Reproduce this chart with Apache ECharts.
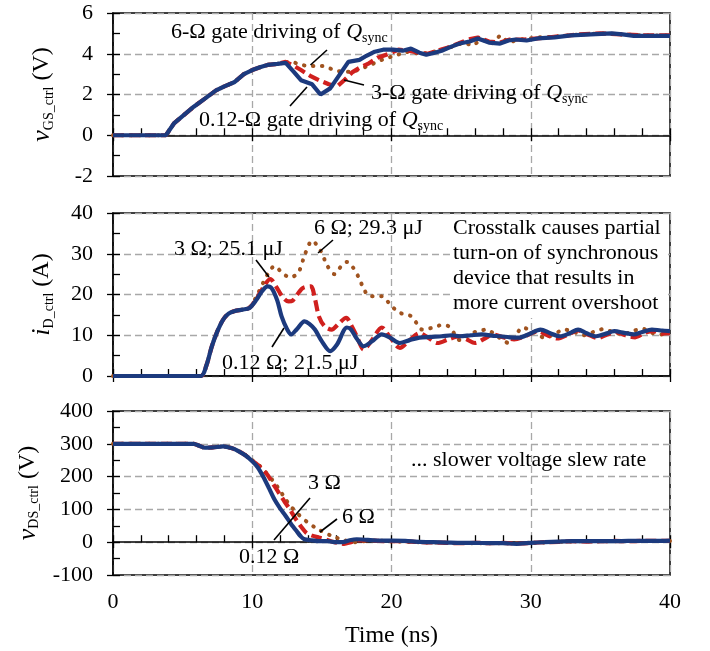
<!DOCTYPE html>
<html><head><meta charset="utf-8">
<script src="https://cdn.jsdelivr.net/npm/echarts@6/dist/echarts.min.js"></script>
<style>html,body{margin:0;padding:0;background:#fff}#c{width:710px;height:651px}</style>
</head><body><div id="c"></div>
<script>
// ---------- data (time in ns) ----------
const seriesNames = ['6 Ω', '3 Ω', '0.12 Ω'];
// Panel 1: v_GS_ctrl (V)
const vgs_6 = [[0,0],[3.8,0],[4.4,0.6],[5.1,1.0],[5.8,1.4],[6.6,1.8],[7.4,2.2],[8.0,2.4],[8.7,2.6],[9.4,3.0],[10.0,3.2],[10.6,3.35],[11.1,3.45],[11.8,3.5],[12.4,3.6],[12.9,3.6],[13.5,3.45],[14.0,3.4],[15.1,3.4],[16.1,3.15],[17.2,3.1],[18.3,3.4],[19.3,3.7],[20.4,3.95],[21.2,4.1],[22.0,4.0],[22.8,4.05],[23.6,4.2],[24.4,4.35],[25.2,4.55],[25.8,4.4],[26.5,4.7],[27.2,4.5],[27.8,4.9],[28.4,4.55],[29.2,4.7],[30.5,4.8],[32.0,4.85],[33.5,4.95],[35.0,5.0],[36.5,4.95],[38.0,4.9],[40,4.9]];
const vgs_3 = [[0,0],[3.8,0],[4.4,0.6],[5.1,1.0],[5.8,1.4],[6.6,1.8],[7.4,2.2],[8.0,2.4],[8.7,2.6],[9.4,3.0],[10.0,3.2],[10.6,3.35],[11.1,3.45],[11.8,3.5],[12.4,3.6],[13.0,3.4],[13.5,3.2],[14.2,2.9],[14.8,2.7],[15.5,2.5],[16.1,2.4],[16.6,2.7],[17.2,3.1],[17.8,3.35],[18.3,3.5],[19.0,3.8],[19.8,4.0],[20.5,4.2],[21.2,4.15],[22.0,4.05],[22.6,4.0],[23.3,4.15],[24.0,4.3],[24.8,4.5],[25.5,4.7],[26.2,4.8],[27.0,4.6],[27.8,4.55],[28.5,4.7],[29.5,4.7],[30.5,4.75],[32.0,4.85],[33.5,4.95],[35.0,5.0],[36.5,4.95],[38.0,4.9],[40,4.9]];
const vgs_012 = [[0,0],[3.8,0],[4.4,0.6],[5.1,1.0],[5.8,1.4],[6.6,1.8],[7.4,2.2],[8.0,2.4],[8.7,2.6],[9.4,3.0],[10.0,3.2],[10.6,3.35],[11.1,3.45],[11.8,3.5],[12.4,3.55],[13.0,3.1],[13.5,2.7],[14.3,2.5],[14.9,2.0],[15.6,2.3],[16.3,3.0],[16.9,3.6],[17.7,3.7],[18.2,3.9],[18.8,4.1],[19.4,4.2],[20.1,4.2],[20.8,4.15],[21.4,4.25],[22.0,4.05],[22.5,3.95],[23.1,4.05],[23.6,4.15],[24.3,4.35],[24.9,4.5],[25.6,4.6],[26.2,4.75],[27.0,4.55],[27.8,4.5],[28.4,4.65],[28.9,4.7],[29.7,4.65],[30.5,4.75],[31.7,4.8],[32.9,4.9],[34.3,4.95],[35.8,5.0],[36.6,4.95],[37.4,4.88],[38.7,4.88],[40,4.88]];
// Panel 2: i_D_ctrl (A)
const id_6 = [[0,0],[6.3,0],[6.7,2.5],[7.1,7.3],[7.5,11],[7.9,13.8],[8.3,15.3],[8.7,15.9],[9.3,16.3],[9.8,16.8],[10.3,19.5],[10.8,23.0],[11.2,25.5],[11.6,27.0],[12.1,25.5],[12.7,24.2],[13.3,25.3],[13.8,30.0],[14.3,33.2],[14.9,30.8],[15.4,27.0],[15.9,25.0],[16.4,27.0],[16.8,28.0],[17.2,26.8],[17.6,24.5],[18.0,21.5],[18.4,19.6],[19.3,19.6],[19.8,18.0],[20.4,15.9],[21.0,15.0],[21.4,14.7],[21.8,13.0],[22.2,11.4],[23.0,11.9],[23.6,12.5],[24.1,12.2],[24.6,10.0],[24.9,8.8],[25.3,9.5],[25.7,10.5],[26.3,11.0],[26.8,11.4],[27.5,10.0],[28.0,8.8],[28.4,8.1],[28.9,9.8],[29.4,11.9],[30.2,10.8],[31.0,9.4],[31.7,10.3],[32.4,11.4],[33.1,10.8],[33.8,10.0],[34.5,10.8],[35.2,11.5],[35.9,10.8],[36.6,10.2],[37.3,11.0],[38.0,11.6],[38.7,10.6],[39.4,10.2],[40,10.4]];
const id_3 = [[0,0],[6.3,0],[6.7,2.5],[7.1,7.3],[7.5,11],[7.9,13.8],[8.3,15.3],[8.7,15.9],[9.3,16.3],[9.8,16.7],[10.3,18.9],[10.8,21.8],[11.3,23.8],[11.7,22.0],[12.2,19.3],[12.6,18.3],[12.9,18.5],[13.6,21.5],[14.2,22.0],[14.5,19.0],[14.8,14.5],[15.2,12.2],[15.7,11.4],[16.2,12.8],[16.75,14.3],[17.1,12.5],[17.5,9.8],[18.0,6.5],[18.6,8.8],[19.3,11.9],[19.9,9.5],[20.6,6.9],[21.3,8.8],[22.0,10.5],[22.6,9.5],[23.3,8.1],[24.1,9.0],[24.9,9.75],[25.4,9.0],[26.0,8.1],[26.7,9.2],[27.3,10.2],[28.0,9.5],[28.8,9.0],[29.6,9.8],[30.5,11.0],[31.2,10.0],[31.9,9.2],[32.7,10.2],[33.4,11.2],[34.1,10.2],[34.8,9.3],[35.5,10.2],[36.1,10.8],[36.8,10.0],[37.5,9.5],[38.2,10.6],[38.8,11.0],[39.4,10.4],[40,10.5]];
const id_012 = [[0,0],[6.3,0],[6.7,2.5],[7.1,7.3],[7.5,11],[7.9,13.8],[8.3,15.3],[8.7,15.9],[9.3,16.3],[9.8,16.7],[10.3,18.7],[10.7,20.8],[11.1,22.0],[11.4,21.5],[11.8,18.5],[12.1,14.7],[12.5,11.5],[12.8,10.2],[13.2,11.5],[13.75,13.4],[14.1,12.8],[14.5,11.4],[15.0,8.5],[15.6,6.1],[16.1,7.8],[16.8,11.9],[17.1,11.4],[17.5,9.2],[18.0,7.3],[18.6,8.5],[19.3,10.2],[19.9,9.4],[20.6,8.1],[21.3,8.8],[22.0,9.4],[22.8,9.6],[23.6,9.75],[24.3,10.0],[24.9,9.75],[25.7,10.0],[26.5,10.2],[27.2,9.9],[27.8,9.75],[28.5,9.5],[29.1,9.4],[29.9,10.3],[30.7,11.4],[31.4,10.5],[32.1,9.75],[32.8,10.5],[33.4,11.4],[34.0,10.5],[34.7,9.75],[35.4,10.4],[36.0,11.0],[36.7,10.6],[37.4,10.2],[38.0,10.8],[38.7,11.4],[39.3,11.2],[40,11.0]];
// Panel 3: v_DS_ctrl (V)
const vds_6 = [[0,300],[5.8,300],[6.2,294],[6.6,288],[7.2,289],[7.9,292],[8.5,287],[9.0,278],[9.5,266],[10.0,250],[10.4,238],[10.8,221],[11.2,202],[11.6,181],[12.0,157],[12.4,130],[12.8,108],[13.2,90],[13.6,73],[14.0,60],[14.5,45],[15.1,31],[15.6,21],[16.1,13],[16.7,5],[17.4,0],[18.0,3],[18.8,5],[19.5,4],[20.5,2],[22,0],[24,-2],[26,-3],[28,-3],[30,-2],[32,1],[34,3],[36,3],[38,4],[40,4]];
const vds_3 = [[0,300],[5.8,300],[6.2,294],[6.6,288],[7.2,289],[7.9,292],[8.5,287],[9.0,278],[9.5,265],[10.0,248],[10.5,232],[11.1,205],[11.5,178],[11.9,151],[12.3,125],[12.7,100],[13.1,72],[13.5,48],[13.9,28],[14.3,20],[14.8,14],[15.3,8],[15.9,0],[16.6,-5],[17.1,0],[17.5,5],[18.3,6],[19.1,4],[20,3],[21,3],[22,0],[23,-1],[24,-2],[25,-3],[26,-2],[27,-3],[28,-2],[29,-4],[30,-2],[31,0],[32,1],[33,3],[34,2],[35,3],[36,4],[37,3],[38,4],[39,4],[40,4]];
const vds_012 = [[0,300],[5.8,300],[6.2,294],[6.6,288],[7.2,289],[7.9,292],[8.5,287],[9.0,278],[9.5,265],[10.0,247],[10.4,228],[10.8,199],[11.2,165],[11.6,130],[12.0,103],[12.4,80],[12.8,55],[13.2,33],[13.5,17],[13.75,9],[14.2,6],[14.8,3],[15.4,3],[16.0,0],[16.6,1],[17.0,6],[17.5,9],[18.3,7],[19.1,5],[20,5],[21,4],[22,1],[23,0],[24,-1],[25,-2],[26,-2],[27,-3],[28,-3],[29,-5],[30,-2],[31,0],[32,2],[33,3],[34,3],[35,3],[36,3],[37,4],[38,4],[39,4],[40,5]];
// axes ranges
const xRange = [0, 40, 10];
const yRanges = [[-2, 6, 2], [0, 40, 10], [-100, 400, 100]];
const yNames = ['{v|v}{s|GS_ctrl}{n| (V)}', '{v|i}{s|D_ctrl}{n| (A)}', '{v|v}{s|DS_ctrl}{n| (V)}'];
const xName = 'Time (ns)';

// ---------- chart ----------
const FONT = 'Liberation Serif';
const COLORS = {b: '#1C3A7E', r: '#D0201E', o: '#A0531F'};
const grids = [
  {left: 113, top: 13, width: 557, height: 163},
  {left: 113, top: 213, width: 557, height: 163},
  {left: 113, top: 411, width: 557, height: 164}
].map(g => Object.assign(g, {show: true, borderColor: '#000', borderWidth: 1.5, backgroundColor: 'transparent'}));

const splitStyle = {type: [7, 4], color: '#A8A8A8', width: 1.3};
const xAxes = [], yAxes = [];
for (let i = 0; i < 3; i++) {
  xAxes.push({
    gridIndex: i, type: 'value', min: xRange[0], max: xRange[1], interval: xRange[2], position: 'bottom',
    axisLine: {lineStyle: {color: '#000', width: 1.5}},
    axisTick: {inside: true, length: 7, lineStyle: {color: '#000', width: 1.3}},
    minorTick: {show: true, splitNumber: 5, length: 7, lineStyle: {color: '#000', width: 1.3}},
    axisLabel: {show: i === 2, fontFamily: FONT, fontSize: 22, color: '#000', margin: 16},
    splitLine: {show: true, lineStyle: splitStyle},
    name: i === 2 ? xName : '', nameLocation: 'middle', nameGap: 49,
    nameTextStyle: {fontFamily: FONT, fontSize: 24, color: '#000'}
  });
  const yr = yRanges[i];
  yAxes.push({
    gridIndex: i, type: 'value', min: yr[0], max: yr[1], interval: yr[2], position: 'left',
    axisLine: {show: true, lineStyle: {color: '#000', width: 1.5}},
    axisTick: {show: true, inside: true, length: 7, lineStyle: {color: '#000', width: 1.3}},
    minorTick: {show: true, splitNumber: 2, length: 7, lineStyle: {color: '#000', width: 1.3}},
    axisLabel: {fontFamily: FONT, fontSize: 22, color: '#000', margin: 20},
    splitLine: {show: true, lineStyle: splitStyle},
    name: yNames[i], nameLocation: 'middle', nameRotate: 90, nameGap: 57,
    nameTextStyle: {
      fontFamily: FONT, color: '#000',
      rich: {
        v: {fontFamily: FONT, fontSize: 26, fontStyle: 'italic', lineHeight: 28, color: '#000'},
        s: {fontFamily: FONT, fontSize: 14, lineHeight: 14, verticalAlign: 'bottom', color: '#000'},
        n: {fontFamily: FONT, fontSize: 24, lineHeight: 28, color: '#000'}
      }
    }
  });
}
// overlay axes: outward major ticks (crossing ticks)
for (let i = 0; i < 3; i++) {
  xAxes.push({gridIndex: i, type: 'value', min: xRange[0], max: xRange[1], interval: xRange[2], position: 'bottom',
    axisLine: {show: false}, axisTick: {show: true, inside: false, length: 6, lineStyle: {color: '#000', width: 1.3}},
    axisLabel: {show: false}, splitLine: {show: false}});
  const yr = yRanges[i];
  yAxes.push({gridIndex: i, type: 'value', min: yr[0], max: yr[1], interval: yr[2], position: 'left',
    axisLine: {show: false}, axisTick: {show: true, inside: false, length: 6, lineStyle: {color: '#000', width: 1.3}},
    axisLabel: {show: false}, splitLine: {show: false}});
}

function mk(name, data, gi, kind, smooth) {
  const ls = kind === 'b' ? {color: COLORS.b, width: 4.2, type: 'solid'}
           : kind === 'r' ? {color: COLORS.r, width: 4.2, type: [11, 5]}
           : {color: COLORS.o, width: 4, type: [0.5, 8.5], cap: 'round'};
  return {type: 'line', name, data, xAxisIndex: gi, yAxisIndex: gi, symbol: 'none', smooth: smooth,
    lineStyle: ls, itemStyle: {color: ls.color}, z: kind === 'b' ? 5 : kind === 'r' ? 4 : 3, animation: false};
}
const series = [
  mk(seriesNames[0], vgs_6, 0, 'o', 0), mk(seriesNames[1], vgs_3, 0, 'r', 0), mk(seriesNames[2], vgs_012, 0, 'b', 0),
  mk(seriesNames[0], id_6, 1, 'o', 0.3), mk(seriesNames[1], id_3, 1, 'r', 0.3), mk(seriesNames[2], id_012, 1, 'b', 0.3),
  mk(seriesNames[0], vds_6, 2, 'o', 0.2), mk(seriesNames[1], vds_3, 2, 'r', 0.2), mk(seriesNames[2], vds_012, 2, 'b', 0.2)
];

const R = {
  t: {fontFamily: FONT, fontSize: 22, lineHeight: 26, fill: '#000'},
  q: {fontFamily: FONT, fontSize: 22, fontStyle: 'italic', lineHeight: 26, fill: '#000'},
  s: {fontFamily: FONT, fontSize: 14, lineHeight: 14, verticalAlign: 'bottom', fill: '#000'}
};
function txt(x, y, text) {
  return {type: 'text', x, y, z: 20, style: {text, rich: R, fontFamily: FONT, fontSize: 22, fill: '#000', align: 'left', verticalAlign: 'middle'}};
}
function ln(x1, y1, x2, y2) {
  return {type: 'line', z: 20, shape: {x1, y1, x2, y2}, style: {stroke: '#000', lineWidth: 1.6}};
}
const graphic = [
  // panel 1
  txt(171, 32, '{t|6-Ω gate driving of }{q|Q}{s|sync}'),
  ln(310.5, 65, 327, 50),
  txt(371, 93, '{t|3-Ω gate driving of }{q|Q}{s|sync}'),
  ln(344, 80, 364, 85),
  txt(199, 120, '{t|0.12-Ω gate driving of }{q|Q}{s|sync}'),
  ln(290, 106, 307, 87),
  // panel 2
  {type: 'rect', z: 15, shape: {x: 450, y: 215, width: 218, height: 103}, style: {fill: '#fff'}},
  txt(453, 228, '{t|Crosstalk causes partial}'),
  txt(453, 253, '{t|turn-on of synchronous}'),
  txt(453, 278, '{t|device that results in}'),
  txt(453, 303, '{t|more current overshoot}'),
  txt(174, 249, '{t|3 Ω; 25.1 μJ}'),
  ln(256, 260, 269, 277),
  txt(314, 228, '{t|6 Ω; 29.3 μJ}'),
  ln(318, 253, 333, 240),
  txt(222, 363, '{t|0.12 Ω; 21.5 μJ}'),
  ln(272, 347, 284, 328),
  // panel 3
  txt(411, 460, '{t|... slower voltage slew rate}'),
  txt(308, 483, '{t|3 Ω}'),
  ln(274, 540, 310, 498),
  txt(342, 517, '{t|6 Ω}'),
  ln(320, 532, 337, 519),
  txt(239, 557, '{t|0.12 Ω}')
];

const chart = echarts.init(document.getElementById('c'), null, {renderer: 'canvas'});
chart.setOption({
  animation: false, backgroundColor: '#fff',
  grid: grids, xAxis: xAxes, yAxis: yAxes, series, graphic
});
</script></body></html>
